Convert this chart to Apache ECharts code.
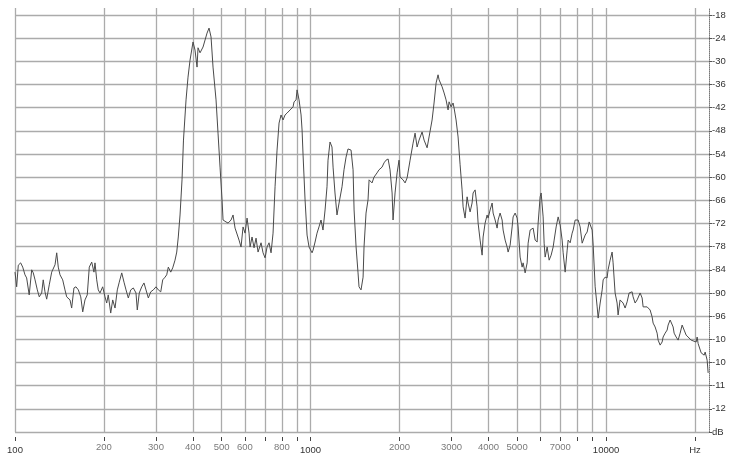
<!DOCTYPE html>
<html>
<head>
<meta charset="utf-8">
<script src="https://cdn.jsdelivr.net/npm/echarts@6/dist/echarts.min.js"></script>
<style>
html,body{margin:0;padding:0;background:#fff;}
#chart{width:729px;height:456px;}
</style>
</head>
<body>
<div id="chart"></div>
<script>
// Frequency (Hz) of each sample of the spectrum trace
const freqHz = [
100,101.3,102.6,104.5,106.2,108.1,109.5,111.7,113.9,115.3,
116.9,119,120.8,123.1,124.6,126.3,128,130.6,133.1,136.6,
138.4,140.1,142,145,147.6,149.6,153.5,155.5,158.3,160.8,
163.8,166.9,169.5,172.5,175.6,178.4,181.8,185,186.5,189,
191.3,193.9,198,201.6,204.3,206.8,210.8,214.1,218,221.9,
225.3,229.7,233.8,237.5,241.8,246.4,251.4,256.7,259.3,263.3,
268.4,273.2,277.5,282.6,287.9,293.8,300,305.5,311.3,316.1,
321.9,326.1,330.2,336.5,341.7,347.9,352.6,356.9,361.8,367.4,
371.6,379.1,385,391.1,400.3,406.6,413,416.2,422.8,432.8,
439.6,446.5,453.5,460.6,467.8,478.9,486.4,494.1,501.9,505.8,
517.7,525.9,538.3,546.8,555.4,564.1,572.9,581.9,591.1,600.4,
609.8,619.4,624.3,634,644,654.1,664.4,680.1,690.8,701.7,
712.7,723.8,735.2,746.8,758.5,770.4,782.5,794.8,807.3,820,
832.9,852.6,872.7,879.5,893.4,900.4,914.5,928.9,936.2,943.5,
958.3,973.4,988.6,1012,1020,1036,1052,1068,1085,1102,
1120,1137,1146,1164,1182,1192,1210,1229,1249,1278,
1298,1319,1339,1371,1393,1404,1426,1448,1459,1482,
1506,1517,1541,1565,1578,1615,1640,1679,1705,1746,
1773,1801,1830,1858,1888,1902,1932,1963,1993,2009,
2056,2089,2122,2172,2223,2258,2294,2330,2385,2422,
2480,2518,2578,2618,2660,2701,2723,2787,2831,2875,
2920,2943,2990,3036,3060,3108,3157,3207,3257,3283,
3334,3387,3413,3467,3521,3549,3605,3661,3690,3748,
3807,3837,3897,3958,3989,4052,4116,4148,4213,4279,
4312,4380,4449,4484,4555,4626,4662,4736,4810,4847,
4924,5001,5040,5119,5200,5240,5323,5407,5449,5535,
5665,5754,5845,5890,5983,6030,6124,6172,6221,6319,
6418,6519,6621,6673,6778,6884,6993,7102,7158,7271,
7385,7442,7560,7678,7738,7860,7983,8046,8172,8301,
8365,8497,8631,8766,8974,9044,9186,9330,9403,9551,
9701,9777,9925,10081,10159,10320,10482,10564,10730,10898,
10983,11155,11330,11418,11600,11782,11967,12249,12345,12540,
12737,13040,13245,13348,13556,13769,13876,14095,14316,14428,
14655,14885,15001,15238,15477,15598,15844,16093,16218,16474,
16603,16863,16995,17262,17532,17809,18089,18229,18372,18661,
18954,19403,19707,20174,20332,20490,20976,21305,21472,21641,
21981,22152
];

// Level (dB) of each sample
const levelDb = [
-84.6,-88.4,-82.8,-82.2,-83.3,-85.3,-86.1,-90.5,-84.0,-84.8,
-86.6,-89.2,-91.0,-90.0,-86.6,-89.7,-91.6,-87.9,-84.6,-82.7,
-79.6,-83.3,-85.3,-86.6,-89.2,-91.0,-91.8,-93.9,-88.7,-88.4,
-89.2,-91.0,-94.9,-91.8,-90.5,-83.3,-82.0,-84.6,-82.2,-86.6,
-89.2,-90.0,-88.4,-91.0,-92.6,-90.5,-95.2,-91.8,-93.9,-89.2,
-87.2,-84.8,-87.2,-89.2,-91.3,-89.2,-88.7,-90.0,-94.4,-90.0,
-88.4,-87.4,-89.2,-91.3,-89.7,-89.2,-88.4,-89.2,-89.7,-86.6,
-85.9,-85.3,-83.3,-84.6,-83.5,-81.5,-79.4,-75.5,-69.8,-60.7,
-50.4,-40.0,-34.1,-29.7,-25.0,-27.1,-31.5,-26.5,-27.8,-26.3,
-24.5,-22.7,-21.4,-23.7,-31.5,-40.0,-48.6,-57.4,-65.9,-71.1,
-71.6,-71.9,-71.1,-69.8,-73.2,-73.7,-76.3,-78.1,-72.9,-74.5,
-70.6,-74.5,-78.1,-75.5,-78.3,-75.8,-79.4,-77.0,-79.6,-80.9,
-78.1,-77.0,-79.6,-74.5,-62.5,-53.0,-46.0,-43.9,-45.2,-43.9,
-43.4,-42.6,-41.8,-40.5,-40.0,-37.4,-40.0,-43.9,-47.8,-54.3,
-65.9,-75.0,-78.1,-79.6,-78.9,-76.8,-74.5,-72.9,-71.1,-73.7,
-68.5,-62.5,-55.6,-50.9,-52.2,-57.4,-64.1,-69.8,-66.7,-62.5,
-58.1,-54.8,-52.7,-53.0,-58.1,-68.5,-78.1,-84.8,-88.4,-89.2,
-85.9,-78.1,-69.3,-65.9,-60.7,-61.5,-60.0,-58.9,-58.1,-57.4,
-56.3,-55.6,-55.3,-58.1,-64.1,-71.1,-64.1,-58.9,-55.6,-60.0,
-60.7,-61.5,-60.2,-55.6,-51.2,-48.6,-52.2,-50.4,-48.3,-50.4,
-52.4,-49.6,-45.2,-40.8,-35.6,-33.5,-34.8,-36.6,-38.2,-40.0,
-42.6,-40.5,-41.8,-40.8,-42.1,-45.2,-49.6,-56.8,-63.3,-67.7,
-70.6,-65.1,-66.7,-69.0,-66.7,-64.1,-63.3,-67.7,-71.9,-76.3,
-80.2,-75.5,-71.9,-69.8,-70.6,-68.5,-66.7,-69.3,-71.1,-73.2,
-71.1,-69.3,-71.1,-73.7,-76.3,-78.1,-79.4,-77.6,-72.9,-70.3,
-69.3,-70.6,-72.9,-80.7,-83.3,-82.2,-84.8,-82.2,-77.1,-73.7,
-73.2,-76.3,-76.8,-71.9,-65.1,-64.1,-70.3,-77.1,-80.7,-78.1,
-81.5,-80.2,-78.1,-76.3,-72.9,-70.3,-72.4,-76.3,-79.6,-84.6,
-78.9,-76.3,-77.0,-74.5,-73.7,-71.1,-70.6,-71.1,-72.9,-77.1,
-77.6,-75.0,-74.2,-71.6,-73.7,-77.6,-88.4,-93.6,-96.5,-92.6,
-89.2,-86.6,-85.9,-86.1,-84.0,-81.5,-79.4,-82.2,-90.0,-92.6,
-95.7,-91.8,-91.3,-92.6,-93.9,-92.3,-90.0,-89.7,-91.0,-92.6,
-91.8,-90.0,-91.3,-93.6,-93.1,-93.6,-93.9,-94.4,-96.2,-97.8,
-98.8,-100.4,-102.2,-103.5,-102.7,-101.4,-100.4,-99.6,-98.3,-97.0,
-96.5,-98.8,-100.4,-101.4,-102.2,-100.4,-98.3,-97.8,-99.6,-100.9,
-101.4,-102.2,-101.7,-102.7,-101.4,-103.1,-105.5,-105.3,-106.1,-105.3,
-107.4,-110.7
];

// X-axis grid / tick frequencies (Hz) and their printed labels
const xTickHz = [100,200,300,400,500,600,700,800,900,1000,2000,3000,4000,5000,6000,7000,8000,9000,10000,20000];
const xTickText = ['100','200','300','400','500','600','','800','','1000','2000','3000','4000','5000','','7000','','','10000','Hz'];
const xMajor = [100,1000,10000,20000];

// Y-axis ticks (dB) -- the last is printed as the unit
const yTickDb = [-126,-120,-114,-108,-102,-96,-90,-84,-78,-72,-66,-60,-54,-48,-42,-36,-30,-24,-18];

const X_MIN_HZ = 100, X_MAX_HZ = 22300;
const Y_MIN = -126, Y_MAX = -16.2;

const n = Math.min(freqHz.length, levelDb.length);
const seriesData = [];
for (let i = 0; i < n; i++) seriesData.push([Math.log10(freqHz[i]), levelDb[i]]);

const xTickLog = xTickHz.map(f => Math.log10(f));

const chart = echarts.init(document.getElementById('chart'), null, {renderer: 'canvas'});
chart.setOption({
  animation: false,
  backgroundColor: '#ffffff',
  grid: {left: 15, right: 20, top: 8, bottom: 24, containLabel: false, outerBoundsMode: 'none'},
  xAxis: {
    type: 'value',
    min: Math.log10(X_MIN_HZ),
    max: Math.log10(X_MAX_HZ),
    axisLine: {show: false},
    axisTick: {
      show: true, customValues: xTickLog, length: 9,
      lineStyle: {color: '#444', width: 1, type: [0, 5, 4, 20]}
    },
    splitLine: {show: true, lineStyle: {color: '#ababab', width: 1.3}},
    axisLabel: {
      customValues: xTickLog,
      margin: 10,
      fontFamily: 'Liberation Sans, Arial, sans-serif',
      fontSize: 9.5,
      formatter: function (v) {
        const hz = Math.round(Math.pow(10, v));
        const idx = xTickHz.indexOf(hz);
        if (idx < 0) return '';
        const t = xTickText[idx];
        if (!t) return '';
        return xMajor.indexOf(hz) >= 0 ? '{mj|' + t + '}' : '{mn|' + t + '}';
      },
      rich: {
        mn: {color: '#7a7a7a', fontSize: 9.5, fontFamily: 'Liberation Sans, Arial, sans-serif'},
        mj: {color: '#333', fontSize: 9.5, fontFamily: 'Liberation Sans, Arial, sans-serif', padding: [3, 0, 0, 0]}
      }
    }
  },
  yAxis: {
    type: 'value',
    position: 'right',
    min: Y_MIN,
    max: Y_MAX,
    axisLine: {show: true, lineStyle: {color: '#777', type: 'dotted', width: 1}},
    axisTick: {show: true, customValues: yTickDb, length: 3, lineStyle: {color: '#555'}},
    splitLine: {show: true, lineStyle: {color: '#ababab', width: 1.3}},
    axisLabel: {
      customValues: yTickDb,
      margin: 3,
      color: '#333',
      fontFamily: 'Liberation Sans, Arial, sans-serif',
      fontSize: 9.5,
      formatter: function (v) {
        if (Math.round(v) === -126) return 'dB';
        return String(Math.round(v)).slice(0, 3);
      }
    }
  },
  series: [{
    type: 'line',
    data: seriesData,
    showSymbol: false,
    symbol: 'none',
    lineStyle: {color: '#4a4a4a', width: 1},
    silent: true
  }]
});
</script>
</body>
</html>
